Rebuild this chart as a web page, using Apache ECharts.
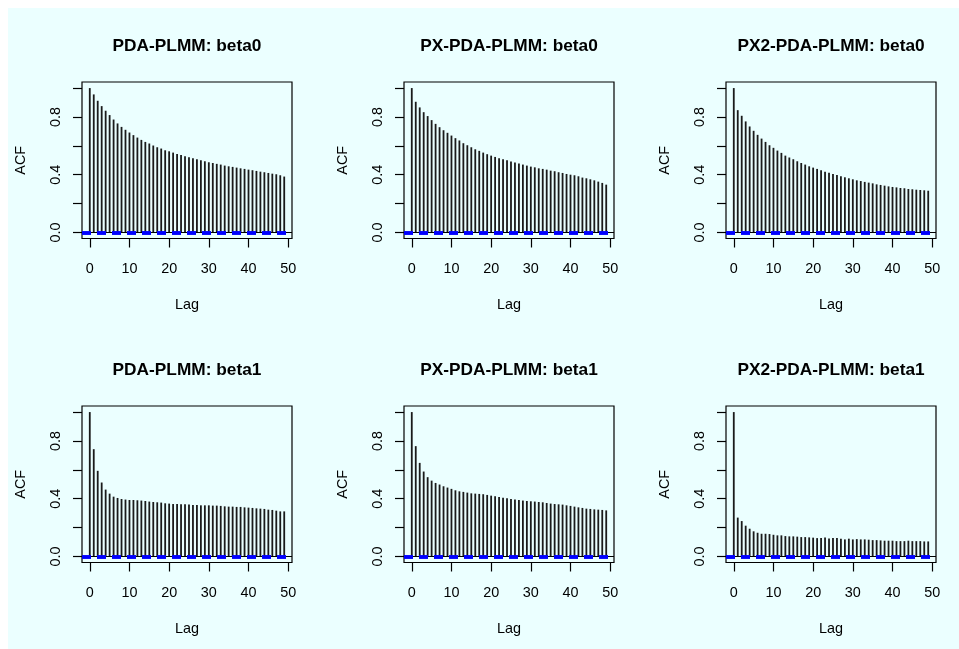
<!DOCTYPE html>
<html>
<head>
<meta charset="utf-8">
<script src="https://cdn.jsdelivr.net/npm/echarts@6/dist/echarts.min.js"></script>
<style>
html,body{margin:0;padding:0;background:#fff;}
#c{width:959px;height:649px;background:linear-gradient(#ebffff,#ebffff) 8px 8px/951px 641px no-repeat,#ffffff;}
</style>
</head>
<body>
<div id="c"></div>
<script>
// ---- data ----
const titles = ["PDA-PLMM: beta0", "PX-PDA-PLMM: beta0", "PX2-PDA-PLMM: beta0",
                "PDA-PLMM: beta1", "PX-PDA-PLMM: beta1", "PX2-PDA-PLMM: beta1"];
const lags = [0,1,2,3,4,5,6,7,8,9,10,11,12,13,14,15,16,17,18,19,20,21,22,23,24,
              25,26,27,28,29,30,31,32,33,34,35,36,37,38,39,40,41,42,43,44,45,46,47,48,49];
const acfPdaB0 = [1.000,0.956,0.912,0.875,0.843,0.813,0.782,0.755,0.731,0.711,
  0.692,0.674,0.657,0.641,0.627,0.616,0.602,0.590,0.581,0.569,
  0.562,0.553,0.544,0.537,0.528,0.521,0.514,0.507,0.500,0.493,
  0.486,0.481,0.475,0.470,0.463,0.458,0.454,0.449,0.444,0.440,
  0.435,0.431,0.426,0.421,0.417,0.412,0.407,0.403,0.396,0.387];
const acfPxB0 = [1.000,0.905,0.866,0.833,0.806,0.778,0.752,0.729,0.708,0.690,
  0.671,0.653,0.637,0.618,0.604,0.590,0.576,0.565,0.553,0.542,
  0.532,0.523,0.514,0.507,0.500,0.491,0.484,0.477,0.470,0.463,
  0.456,0.451,0.444,0.440,0.435,0.428,0.424,0.417,0.412,0.405,
  0.400,0.396,0.389,0.380,0.375,0.368,0.361,0.352,0.343,0.331];
const acfPx2B0 = [1.000,0.847,0.808,0.769,0.734,0.704,0.676,0.650,0.627,0.604,
  0.586,0.567,0.551,0.532,0.519,0.507,0.493,0.481,0.470,0.458,
  0.449,0.440,0.431,0.421,0.414,0.405,0.398,0.389,0.382,0.375,
  0.368,0.361,0.356,0.350,0.345,0.340,0.333,0.329,0.324,0.319,
  0.315,0.312,0.308,0.306,0.301,0.299,0.296,0.294,0.292,0.289];
const acfPdaB1 = [1.000,0.743,0.593,0.512,0.463,0.435,0.414,0.405,0.398,0.394,
  0.391,0.391,0.389,0.387,0.384,0.380,0.377,0.375,0.373,0.368,
  0.366,0.363,0.363,0.361,0.361,0.359,0.356,0.356,0.354,0.354,
  0.354,0.352,0.352,0.350,0.347,0.345,0.345,0.343,0.343,0.340,
  0.338,0.336,0.333,0.331,0.329,0.324,0.322,0.317,0.312,0.312];
const acfPxB1 = [1.000,0.764,0.648,0.588,0.549,0.525,0.509,0.498,0.486,0.477,
  0.468,0.458,0.451,0.447,0.442,0.437,0.435,0.433,0.431,0.426,
  0.421,0.417,0.412,0.407,0.403,0.398,0.394,0.391,0.387,0.384,
  0.382,0.380,0.377,0.375,0.370,0.366,0.363,0.361,0.359,0.354,
  0.350,0.345,0.340,0.336,0.331,0.329,0.326,0.324,0.322,0.319];
const acfPx2B1 = [1.000,0.269,0.245,0.213,0.192,0.174,0.164,0.157,0.157,0.155,
  0.150,0.146,0.146,0.141,0.139,0.139,0.137,0.134,0.134,0.132,
  0.130,0.127,0.127,0.132,0.125,0.127,0.127,0.123,0.118,0.123,
  0.118,0.120,0.118,0.118,0.116,0.113,0.113,0.111,0.109,0.109,
  0.109,0.106,0.106,0.106,0.109,0.106,0.106,0.106,0.104,0.104];
const panels = [acfPdaB0, acfPxB0, acfPx2B0, acfPdaB1, acfPxB1, acfPx2B1];
const xTicks = [0,10,20,30,40,50];
const yTicks = [0,0.2,0.4,0.6,0.8,1.0];
const yLabels = [0,0.4,0.8];
const ciBound = 0.002;

// ---- layout ----
const colLeft = [82, 404, 726];
const rowTop = [82, 406];
const boxW = 210, boxH = 156.5;
const font = '"Liberation Sans", Arial, sans-serif';

const chart = echarts.init(document.getElementById('c'), null, {renderer: 'canvas'});
const grid = [], xAxis = [], yAxis = [], series = [], title = [];
panels.forEach((vals, i) => {
  const c = i % 3, r = Math.floor(i / 3);
  grid.push({left: colLeft[c], top: rowTop[r], width: boxW, height: boxH,
    show: true, borderColor: '#000', borderWidth: 1.2, backgroundColor: 'transparent',
    containLabel: false, outerBoundsMode: 'none'});
  title.push({text: titles[i], left: colLeft[c] + boxW / 2, top: rowTop[r] - 36,
    textAlign: 'center', textVerticalAlign: 'middle', padding: 0,
    textStyle: {fontFamily: font, fontSize: 17.3, fontWeight: 'bold', color: '#000'}});
  xAxis.push({type: 'value', gridIndex: i, min: -1.96, max: 50.96,
    name: 'Lag', nameLocation: 'middle', nameGap: 59.5, nameMoveOverlap: false,
    nameTextStyle: {fontFamily: font, fontSize: 14.4, color: '#000'},
    axisLine: {show: false, onZero: false}, splitLine: {show: false},
    axisTick: {show: true, length: 9, lineStyle: {color: '#000', width: 1.2}, customValues: xTicks},
    axisLabel: {show: true, margin: 23.5, fontFamily: font, fontSize: 14.4, color: '#000', customValues: xTicks}});
  yAxis.push({type: 'value', gridIndex: i, min: -0.042, max: 1.042,
    name: 'ACF', nameLocation: 'middle', nameGap: 54, nameRotate: 90, nameMoveOverlap: false,
    nameTextStyle: {fontFamily: font, fontSize: 14.4, color: '#000'},
    axisLine: {show: false, onZero: false}, splitLine: {show: false},
    axisTick: {show: true, length: 9, lineStyle: {color: '#000', width: 1.2}, customValues: yTicks},
    axisLabel: {show: true, rotate: 90, margin: 19, fontFamily: font, fontSize: 14.4, color: '#000',
      customValues: yLabels, formatter: v => Number(v).toFixed(1)}});
  series.push({type: 'bar', xAxisIndex: i, yAxisIndex: i, barWidth: 1.8,
    itemStyle: {color: '#1a1a1a'}, silent: true, animation: false, z: 2,
    data: lags.map((l, k) => [l, vals[k]])});
  series.push({type: 'line', xAxisIndex: i, yAxisIndex: i, data: [], z: 3, animation: false, silent: true,
    markLine: {silent: true, symbol: 'none', animation: false, label: {show: false},
      data: [
        {yAxis: 0, lineStyle: {color: '#000', width: 1.2, type: 'solid'}},
        {yAxis: ciBound, lineStyle: {color: '#0000ff', width: 3.5, type: [9, 6]}},
        {yAxis: -ciBound, lineStyle: {color: '#0000ff', width: 3.5, type: [9, 6]}}
      ]}});
});

chart.setOption({backgroundColor: 'transparent', animation: false,
  title, grid, xAxis, yAxis, series});
</script>
</body>
</html>
